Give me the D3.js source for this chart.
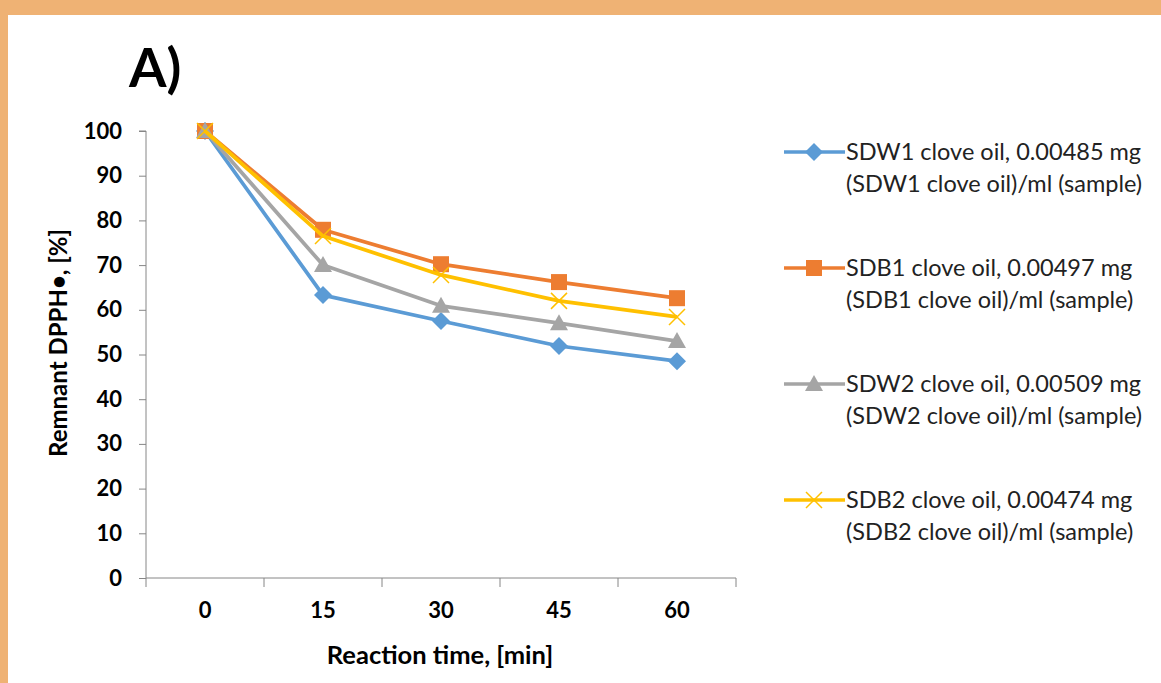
<!DOCTYPE html>
<html>
<head>
<meta charset="utf-8">
<script src="https://cdn.jsdelivr.net/npm/d3@7"></script>
<style>
  body { margin: 0; background: #fff; }
  svg { display: block; font-family: Lato, "Open Sans", sans-serif; }
</style>
</head>
<body>
<svg id="chart" width="1161" height="683"></svg>
<script>
const times = ["0", "15", "30", "45", "60"];
const yTicks = [0, 10, 20, 30, 40, 50, 60, 70, 80, 90, 100];

const sdw1 = [100, 63.3, 57.5, 51.9, 48.5];
const sdb1 = [100, 77.9, 70.2, 66.2, 62.6];
const sdw2 = [100, 70.0, 60.9, 57.0, 53.0];
const sdb2 = [100, 76.5, 67.8, 62.0, 58.4];

const seriesNames = [
  ["SDW1 clove oil, 0.00485 mg", "(SDW1 clove oil)/ml (sample)"],
  ["SDB1 clove oil, 0.00497 mg", "(SDB1 clove oil)/ml (sample)"],
  ["SDW2 clove oil, 0.00509 mg", "(SDW2 clove oil)/ml (sample)"],
  ["SDB2 clove oil, 0.00474 mg", "(SDB2 clove oil)/ml (sample)"]
];

const series = [
  { name: seriesNames[0], values: sdw1, color: "#5b9bd5", marker: "diamond" },
  { name: seriesNames[1], values: sdb1, color: "#ed7d31", marker: "square" },
  { name: seriesNames[2], values: sdw2, color: "#a5a5a5", marker: "triangle" },
  { name: seriesNames[3], values: sdb2, color: "#ffc000", marker: "cross" }
];

const svg = d3.select("#chart");

// orange frame
svg.append("rect").attr("x", 0).attr("y", 0).attr("width", 1161).attr("height", 15).attr("fill", "#efb274");
svg.append("rect").attr("x", 0).attr("y", 0).attr("width", 8).attr("height", 683).attr("fill", "#efb274");

svg.append("text")
  .attr("x", 129).attr("y", 87)
  .attr("font-size", 54).attr("font-weight", "bold")
  .text("A)");

const plotLeft = 146, plotRight = 736, plotTop = 131, plotBottom = 578;

const x = d3.scaleBand().domain(times).range([plotLeft, plotRight]);
const y = d3.scaleLinear().domain([0, 100]).range([plotBottom, plotTop]);

const axisColor = "#868686";

// y axis
const gy = svg.append("g").attr("transform", `translate(${plotLeft},0)`)
  .call(d3.axisLeft(y).tickValues(yTicks).tickSize(7).tickPadding(17));
gy.select(".domain").attr("stroke", axisColor).attr("d", `M-7,${plotTop}H0V${plotBottom}`);
gy.selectAll(".tick line").attr("stroke", axisColor);
gy.selectAll(".tick text").attr("font-size", 22).attr("font-weight", "bold").attr("fill", "#000").attr("font-family", "Lato, sans-serif");

// x axis
const gx = svg.append("g").attr("transform", `translate(0,${plotBottom})`)
  .call(d3.axisBottom(x).tickSize(0).tickPadding(24));
gx.select(".domain").attr("stroke", axisColor).attr("d", `M${plotLeft},0H${plotRight}`);
gx.selectAll(".tick text").attr("font-size", 22).attr("font-weight", "bold").attr("fill", "#000").attr("font-family", "Lato, sans-serif");
const edges = times.map(t => x(t)).concat([x(times[times.length - 1]) + x.bandwidth()]);
gx.selectAll(".edge").data(edges).join("line")
  .attr("x1", d => d).attr("x2", d => d)
  .attr("y1", 0).attr("y2", 9)
  .attr("stroke", axisColor);

// axis titles
svg.append("text")
  .attr("x", 440).attr("y", 664)
  .attr("text-anchor", "middle")
  .attr("font-size", 25.5).attr("font-weight", "bold")
  .text("Reaction time, [min]");

svg.append("text")
  .attr("transform", `translate(67,343) rotate(-90)`)
  .attr("text-anchor", "middle")
  .attr("font-size", 24).attr("font-weight", "bold")
  .text("Remnant DPPH\u2022, [%]");

const cx = t => x(t) + x.bandwidth() / 2;

function drawMarker(sel, s) {
  const c = s.color;
  if (s.marker === "diamond") {
    sel.append("path").attr("d", "M0,-9L9,0L0,9L-9,0Z").attr("fill", c);
  } else if (s.marker === "square") {
    sel.append("rect").attr("x", -8).attr("y", -8).attr("width", 16).attr("height", 16).attr("fill", c);
  } else if (s.marker === "triangle") {
    sel.append("path").attr("d", "M0,-9L9,7L-9,7Z").attr("fill", c);
  } else {
    sel.append("path").attr("d", "M-8,-8L8,8M-8,8L8,-8").attr("stroke", c).attr("stroke-width", 1.5).attr("fill", "none");
  }
}

const line = d3.line().x((d, i) => cx(times[i])).y(d => y(d));

series.forEach(s => {
  const g = svg.append("g");
  g.append("path")
    .attr("d", line(s.values))
    .attr("fill", "none")
    .attr("stroke", s.color)
    .attr("stroke-width", 3.75)
    .attr("stroke-linejoin", "round");
  s.values.forEach((v, i) => {
    const m = g.append("g").attr("transform", `translate(${cx(times[i])},${y(v)})`);
    drawMarker(m, s);
  });
});

// legend
const legend = svg.append("g").attr("transform", "translate(784,152)");
series.forEach((s, i) => {
  const item = legend.append("g").attr("transform", `translate(0,${i * 116})`);
  item.append("line").attr("x1", 0).attr("x2", 61).attr("y1", 0).attr("y2", 0)
    .attr("stroke", s.color).attr("stroke-width", 3.5);
  drawMarker(item.append("g").attr("transform", "translate(30,0)"), s);
  item.append("text").attr("x", 62).attr("y", 8).attr("font-size", 23.5).attr("fill", "#222")
    .text(s.name[0]);
  item.append("text").attr("x", 62).attr("y", 40).attr("font-size", 23.5).attr("fill", "#222")
    .text(s.name[1]);
});
</script>
</body>
</html>
